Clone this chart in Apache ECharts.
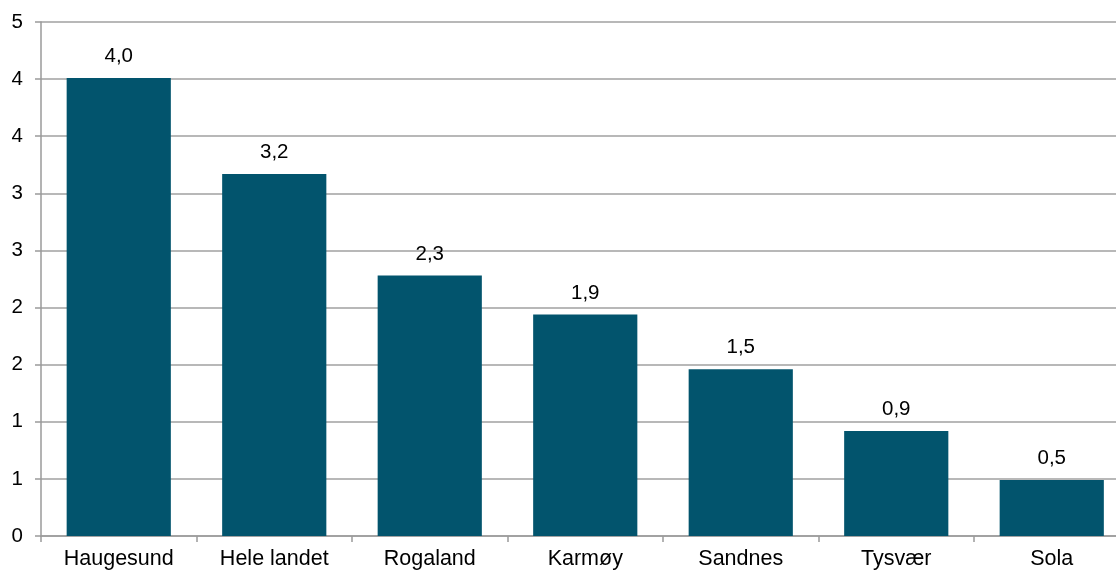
<!DOCTYPE html>
<html>
<head>
<meta charset="utf-8">
<script src="https://cdn.jsdelivr.net/npm/echarts@6/dist/echarts.min.js"></script>
<style>
html,body{margin:0;padding:0;background:#fff;}
#chart{width:1116px;height:571px;}
</style>
</head>
<body>
<div id="chart"></div>
<script>
const categories = ['Haugesund', 'Hele landet', 'Rogaland', 'Karmøy', 'Sandnes', 'Tysvær', 'Sola'];
const values = [4.01, 3.17, 2.28, 1.94, 1.46, 0.92, 0.49];
const yMin = 0;
const yMax = 4.5;
const yInterval = 0.5;

const chart = echarts.init(document.getElementById('chart'), null, {renderer: 'canvas'});
const font = 'Liberation Sans, Arial, sans-serif';
chart.setOption({
  animation: false,
  backgroundColor: '#ffffff',
  grid: {left: 41, top: 22, width: 1088.5, height: 514, containLabel: false, outerBoundsMode: 'none'},
  xAxis: {
    type: 'category',
    data: categories,
    axisLine: {show: true, lineStyle: {color: '#9a9a9a', width: 1.5}},
    axisTick: {show: true, alignWithLabel: false, length: 6, lineStyle: {color: '#9a9a9a', width: 1.5}},
    axisLabel: {color: '#000', fontFamily: font, fontSize: 21.5, margin: 12, interval: 0}
  },
  yAxis: {
    type: 'value',
    min: yMin, max: yMax, interval: yInterval,
    axisLine: {show: true, lineStyle: {color: '#9a9a9a', width: 1.5}},
    axisTick: {show: true, length: 6, lineStyle: {color: '#9a9a9a', width: 1.5}},
    splitLine: {show: true, lineStyle: {color: '#a0a0a0', width: 1.5}},
    axisLabel: {
      color: '#000', fontFamily: font, fontSize: 20.5, margin: 18,
      formatter: v => String(Math.round(v))
    }
  },
  series: [{
    type: 'bar',
    data: values,
    barWidth: '67%',
    itemStyle: {color: '#02546D'},
    label: {
      show: true, position: 'top', distance: 11,
      color: '#000', fontFamily: font, fontSize: 20.5,
      formatter: p => p.value.toFixed(1).replace('.', ',')
    }
  }]
});
</script>
</body>
</html>
